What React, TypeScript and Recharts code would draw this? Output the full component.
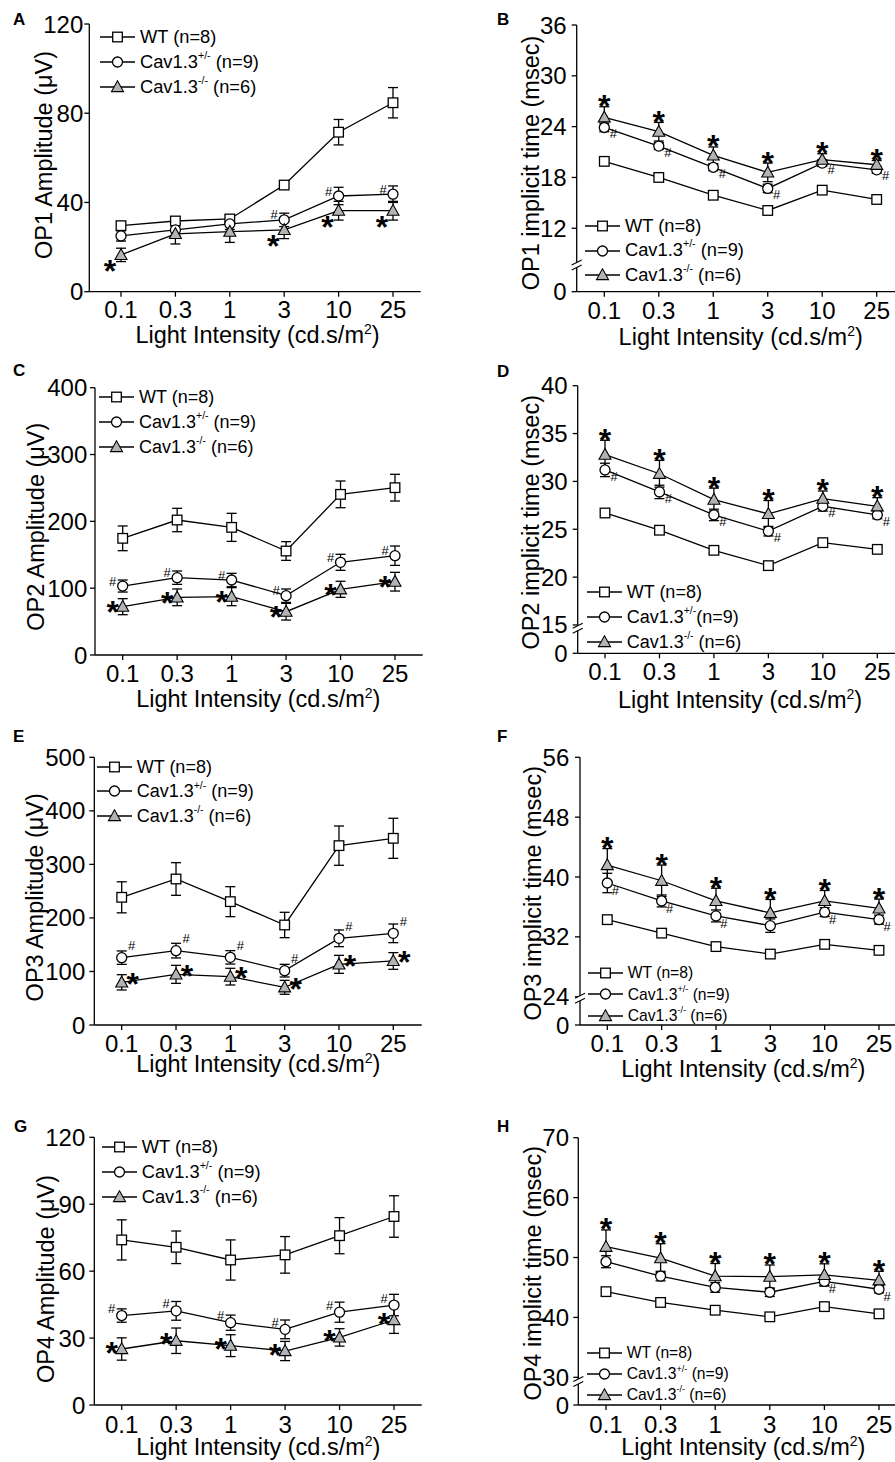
import React from "react";
import {
  ComposedChart,
  Line,
  XAxis,
  YAxis,
  ErrorBar,
  Legend,
  ReferenceDot,
} from "recharts";

const FONT = '"Liberation Sans", Arial, Helvetica, sans-serif';

const intensities = ["0.1", "0.3", "1", "3", "10", "25"];
const legendNames = ["WT", "Cav1.3", "Cav1.3"];
const legendSups = ["", "+/-", "-/-"];
const legendCounts = ["(n=8)", "(n=9)", "(n=6)"];

// A - OP1 amplitude (µV)
const op1AmpWt = [29.6, 31.7, 32.6, 47.8, 71.5, 84.7];
const op1AmpWtErr = [1.5, 1.2, 1.5, 1.2, 5.7, 6.8];
const op1AmpHet = [25.0, 27.7, 30.4, 32.2, 42.9, 43.7];
const op1AmpHetErr = [2.3, 2.5, 2.5, 3.0, 3.9, 3.7];
const op1AmpKo = [16.5, 25.9, 26.9, 27.7, 36.3, 36.3];
const op1AmpKoErr = [3.0, 4.5, 4.8, 3.9, 4.2, 4.2];
const op1AmpStars = [1, 0, 0, 1, 1, 1];
const op1AmpHashes = [0, 0, 0, 1, 1, 1];

// B - OP1 implicit time (msec)
const op1TimeWt = [19.9, 18.0, 15.9, 14.1, 16.5, 15.4];
const op1TimeWtErr = [0.3, 0.3, 0.3, 0.3, 0.3, 0.3];
const op1TimeHet = [23.9, 21.7, 19.2, 16.7, 19.7, 18.9];
const op1TimeHetErr = [0.5, 0.4, 0.4, 0.5, 0.4, 0.4];
const op1TimeKo = [25.1, 23.4, 20.6, 18.6, 20.1, 19.5];
const op1TimeKoErr = [1.25, 1.1, 1.0, 1.1, 0.7, 0.5];
const op1TimeStars = [1, 1, 1, 1, 1, 1];
const op1TimeHashes = [1, 1, 1, 1, 1, 1];

// C - OP2 amplitude (µV)
const op2AmpWt = [174.6, 202, 191, 155.6, 240.4, 250.4];
const op2AmpWtErr = [18.5, 17.5, 21, 14, 20, 20];
const op2AmpHet = [103.2, 115.7, 112.2, 88.8, 138.7, 148.6];
const op2AmpHetErr = [9, 10, 10, 10, 12, 14.5];
const op2AmpKo = [72.3, 86.3, 87.3, 64.8, 98.3, 109.7];
const op2AmpKoErr = [12, 12.5, 13.5, 12.5, 12, 14];
const op2AmpStars = [1, 1, 1, 1, 1, 1];
const op2AmpHashes = [1, 1, 1, 1, 1, 1];

// D - OP2 implicit time (msec)
const op2TimeWt = [26.7, 24.9, 22.8, 21.2, 23.6, 22.9];
const op2TimeWtErr = [0.3, 0.3, 0.3, 0.3, 0.3, 0.3];
const op2TimeHet = [31.2, 28.9, 26.5, 24.8, 27.4, 26.5];
const op2TimeHetErr = [0.7, 0.7, 0.6, 0.5, 0.5, 0.4];
const op2TimeKo = [32.8, 30.8, 28.1, 26.6, 28.2, 27.4];
const op2TimeKoErr = [1.5, 1.4, 1.2, 1.4, 0.8, 0.9];
const op2TimeStars = [1, 1, 1, 1, 1, 1];
const op2TimeHashes = [1, 1, 1, 1, 1, 1];

// E - OP3 amplitude (µV)
const op3AmpWt = [238.5, 272.7, 230.4, 186.8, 335, 348.7];
const op3AmpWtErr = [29, 30.5, 28, 23.7, 36.7, 37.4];
const op3AmpHet = [125.8, 138.9, 126.4, 101.5, 161.9, 171.2];
const op3AmpHetErr = [12.5, 13.7, 12.5, 11.8, 15.6, 17.4];
const op3AmpKo = [79.7, 94.6, 90.3, 70.4, 113.3, 119.6];
const op3AmpKoErr = [14.3, 16.8, 15.6, 13, 16.8, 15.6];
const op3AmpStars = [1, 1, 1, 1, 1, 1];
const op3AmpHashes = [1, 1, 1, 1, 1, 1];

// F - OP3 implicit time (msec)
const op3TimeWt = [34.3, 32.5, 30.7, 29.7, 31.0, 30.2];
const op3TimeWtErr = [0.3, 0.3, 0.3, 0.3, 0.3, 0.3];
const op3TimeHet = [39.2, 36.8, 34.8, 33.5, 35.3, 34.3];
const op3TimeHetErr = [1.3, 0.8, 0.8, 0.9, 0.6, 0.6];
const op3TimeKo = [41.6, 39.5, 36.8, 35.2, 36.8, 35.8];
const op3TimeKoErr = [2.2, 2.1, 1.7, 1.8, 1.4, 1.25];
const op3TimeStars = [1, 1, 1, 1, 1, 1];
const op3TimeHashes = [1, 1, 1, 0, 1, 1];

// G - OP4 amplitude (µV)
const op4AmpWt = [74, 70.7, 65, 67.3, 75.9, 84.5];
const op4AmpWtErr = [9, 7.3, 9, 8.2, 8.1, 9.3];
const op4AmpHet = [40.1, 42.2, 36.9, 33.9, 41.6, 44.8];
const op4AmpHetErr = [3, 4.2, 3.4, 4.2, 4.5, 4.8];
const op4AmpKo = [25.1, 28.8, 26.6, 24.2, 30.3, 38.1];
const op4AmpKoErr = [5, 5.7, 4.9, 4.3, 3.9, 6];
const op4AmpStars = [1, 1, 1, 1, 1, 1];
const op4AmpHashes = [1, 1, 1, 1, 1, 1];

// H - OP4 implicit time (msec)
const op4TimeWt = [44.3, 42.5, 41.2, 40.1, 41.8, 40.6];
const op4TimeWtErr = [0.4, 0.4, 0.4, 0.4, 0.4, 0.4];
const op4TimeHet = [49.3, 46.9, 45.0, 44.2, 46.0, 44.7];
const op4TimeHetErr = [1.0, 0.8, 0.8, 0.7, 0.7, 0.6];
const op4TimeKo = [51.8, 49.9, 46.9, 46.8, 47.1, 46.2];
const op4TimeKoErr = [2.8, 2.4, 2.1, 1.95, 1.85, 1.5];
const op4TimeStars = [1, 1, 1, 1, 1, 1];
const op4TimeHashes = [0, 0, 0, 0, 1, 1];

type Series = { wt: number[]; wtErr: number[]; het: number[]; hetErr: number[]; ko: number[]; koErr: number[]; stars: number[]; hashes: number[] };

type PanelCfg = {
  letter: string;
  box: { left: number; top: number; width: number; height: number };
  axisX: number;
  axisRight: number;
  axisTop: number;
  axisBottom: number;
  tick0: number;
  tick5: number;
  yDomain: [number, number];
  yTicks: number[];
  brokenFloor?: number;
  breakAt?: number;
  yGap: number;
  tickBase: number;
  xLabel: [number, number];
  yLabel: [number, number, string];
  letterPos: [number, number];
  legend: { left: number; top: number; rowH: number; font: number; tight?: boolean };
  starAbove: boolean;
  star: [number, number];
  hash: [number, number];
  series: Series;
};

const panels: PanelCfg[] = [
  {
    letter: "A", box: { left: 0, top: 0, width: 440, height: 360 },
    axisX: 89.3, axisRight: 420.7, axisTop: 24, axisBottom: 291.7, tick0: 121, tick5: 393,
    yDomain: [0, 120], yTicks: [0, 40, 80, 120], yGap: 6, tickBase: 26.6,
    xLabel: [257.5, 343.3], yLabel: [52, 155, "OP1 Amplitude (μV)"], letterPos: [13, 25],
    legend: { left: 100, top: 37, rowH: 25, font: 18.3 },
    starAbove: false, star: [-11, 9], hash: [-10, -5],
    series: { wt: op1AmpWt, wtErr: op1AmpWtErr, het: op1AmpHet, hetErr: op1AmpHetErr, ko: op1AmpKo, koErr: op1AmpKoErr, stars: op1AmpStars, hashes: op1AmpHashes },
  },
  {
    letter: "B", box: { left: 445, top: 0, width: 450, height: 360 },
    axisX: 576.7, axisRight: 895, axisTop: 25, axisBottom: 291.7, tick0: 604.3, tick5: 876.7,
    yDomain: [4.51, 36], yTicks: [4.51, 12, 18, 24, 30, 36], brokenFloor: 4.51, breakAt: 7.66, yGap: 10, tickBase: 27.6,
    xLabel: [740.7, 345], yLabel: [539, 163, "OP1 implicit time (msec)"], letterPos: [497, 25],
    legend: { left: 585, top: 226, rowH: 24.5, font: 18.3 },
    starAbove: true, star: [0, -8], hash: [9, 6],
    series: { wt: op1TimeWt, wtErr: op1TimeWtErr, het: op1TimeHet, hetErr: op1TimeHetErr, ko: op1TimeKo, koErr: op1TimeKoErr, stars: op1TimeStars, hashes: op1TimeHashes },
  },
  {
    letter: "C", box: { left: 0, top: 358, width: 440, height: 364 },
    axisX: 95, axisRight: 422.7, axisTop: 387.7, axisBottom: 655, tick0: 122.7, tick5: 395,
    yDomain: [0, 400], yTicks: [0, 100, 200, 300, 400], yGap: 7.7, tickBase: 26.7,
    xLabel: [258.3, 706.7], yLabel: [44, 526.7, "OP2 Amplitude (μV)"], letterPos: [13, 376],
    legend: { left: 99, top: 396.7, rowH: 25, font: 18 },
    starAbove: false, star: [-10, -2], hash: [-10, -5],
    series: { wt: op2AmpWt, wtErr: op2AmpWtErr, het: op2AmpHet, hetErr: op2AmpHetErr, ko: op2AmpKo, koErr: op2AmpKoErr, stars: op2AmpStars, hashes: op2AmpHashes },
  },
  {
    letter: "D", box: { left: 445, top: 358, width: 450, height: 364 },
    axisX: 577.7, axisRight: 895, axisTop: 385.7, axisBottom: 653.3, tick0: 605, tick5: 877.3,
    yDomain: [12.04, 40], yTicks: [12.04, 15, 20, 25, 30, 35, 40], brokenFloor: 12.04, breakAt: 14.65, yGap: 10, tickBase: 26.7,
    xLabel: [740, 708.3], yLabel: [539, 522.3, "OP2 implicit time (msec)"], letterPos: [497, 377],
    legend: { left: 586.7, top: 591.7, rowH: 25, font: 18, tight: true },
    starAbove: true, star: [0, -8], hash: [9, 6],
    series: { wt: op2TimeWt, wtErr: op2TimeWtErr, het: op2TimeHet, hetErr: op2TimeHetErr, ko: op2TimeKo, koErr: op2TimeKoErr, stars: op2TimeStars, hashes: op2TimeHashes },
  },
  {
    letter: "E", box: { left: 0, top: 722, width: 440, height: 366 },
    axisX: 94.3, axisRight: 421.7, axisTop: 757.3, axisBottom: 1025, tick0: 121.7, tick5: 393.3,
    yDomain: [0, 500], yTicks: [0, 100, 200, 300, 400, 500], yGap: 9, tickBase: 26.7,
    xLabel: [258.3, 1071.7], yLabel: [43, 897.3, "OP3 Amplitude (μV)"], letterPos: [13, 741.7],
    legend: { left: 96.7, top: 766.7, rowH: 24.7, font: 18 },
    starAbove: false, star: [11, -6], hash: [10, -12],
    series: { wt: op3AmpWt, wtErr: op3AmpWtErr, het: op3AmpHet, hetErr: op3AmpHetErr, ko: op3AmpKo, koErr: op3AmpKoErr, stars: op3AmpStars, hashes: op3AmpHashes },
  },
  {
    letter: "F", box: { left: 445, top: 722, width: 450, height: 366 },
    axisX: 580, axisRight: 895, axisTop: 757.3, axisBottom: 1025, tick0: 607.3, tick5: 879,
    yDomain: [20.22, 56], yTicks: [20.22, 24, 32, 40, 48, 56], brokenFloor: 20.22, breakAt: 23.8, yGap: 10.7, tickBase: 26.7,
    xLabel: [743.3, 1076.7], yLabel: [541, 893.3, "OP3 implicit time (msec)"], letterPos: [497, 741.7],
    legend: { left: 587.7, top: 972.7, rowH: 21.7, font: 15.7 },
    starAbove: true, star: [0, -8], hash: [8, 7],
    series: { wt: op3TimeWt, wtErr: op3TimeWtErr, het: op3TimeHet, hetErr: op3TimeHetErr, ko: op3TimeKo, koErr: op3TimeKoErr, stars: op3TimeStars, hashes: op3TimeHashes },
  },
  {
    letter: "G", box: { left: 0, top: 1090, width: 440, height: 372 },
    axisX: 94.3, axisRight: 421.7, axisTop: 1137.3, axisBottom: 1405, tick0: 121.7, tick5: 394,
    yDomain: [0, 120], yTicks: [0, 30, 60, 90, 120], yGap: 9, tickBase: 28.3,
    xLabel: [258.3, 1455], yLabel: [54, 1279, "OP4 Amplitude (μV)"], letterPos: [14, 1131.7],
    legend: { left: 101.7, top: 1147.3, rowH: 24.7, font: 18.3 },
    starAbove: false, star: [-10, -4], hash: [-10, -7],
    series: { wt: op4AmpWt, wtErr: op4AmpWtErr, het: op4AmpHet, hetErr: op4AmpHetErr, ko: op4AmpKo, koErr: op4AmpKoErr, stars: op4AmpStars, hashes: op4AmpHashes },
  },
  {
    letter: "H", box: { left: 445, top: 1090, width: 450, height: 372 },
    axisX: 578.3, axisRight: 895, axisTop: 1137.7, axisBottom: 1405, tick0: 606, tick5: 879,
    yDomain: [25.38, 70], yTicks: [25.38, 30, 40, 50, 60, 70], brokenFloor: 25.38, breakAt: 29.3, yGap: 9.3, tickBase: 28.3,
    xLabel: [743.3, 1455], yLabel: [541, 1273.3, "OP4 implicit time (msec)"], letterPos: [497, 1131.7],
    legend: { left: 586.7, top: 1353.3, rowH: 20.8, font: 15.7 },
    starAbove: true, star: [0, -8], hash: [8, 7],
    series: { wt: op4TimeWt, wtErr: op4TimeWtErr, het: op4TimeHet, hetErr: op4TimeHetErr, ko: op4TimeKo, koErr: op4TimeKoErr, stars: op4TimeStars, hashes: op4TimeHashes },
  },
];

function Marker({ kind, cx, cy }: { kind: string; cx: number; cy: number }) {
  if (kind === "square")
    return <rect x={cx - 4.8} y={cy - 4.8} width={9.6} height={9.6} fill="#fff" stroke="#000" strokeWidth={1.3} />;
  if (kind === "circle") return <circle cx={cx} cy={cy} r={5} fill="#fff" stroke="#000" strokeWidth={1.3} />;
  return (
    <polygon
      points={`${cx},${cy - 6.2} ${cx - 6},${cy + 4.6} ${cx + 6},${cy + 4.6}`}
      fill="#b3b3b3"
      stroke="#000"
      strokeWidth={1.1}
    />
  );
}

const markerDot = (kind: string) => (p: any) => {
  const key = `${kind}-${p.index}`;
  if (p.cx == null || p.cy == null) return <g key={key} />;
  return (
    <g key={key}>
      <Marker kind={kind} cx={p.cx} cy={p.cy} />
    </g>
  );
};

const markDot = (flag: "star" | "hash", dx: number, dy: number) => (p: any) => {
  const key = `${flag}-${p.index}`;
  if (p.cx == null || p.cy == null || !p.payload?.[flag]) return <g key={key} />;
  const isStar = flag === "star";
  return (
    <text
      key={key}
      x={p.cx + dx}
      y={p.cy + dy + (isStar ? 18.5 : 4.6)}
      textAnchor="middle"
      fontSize={isStar ? 32 : 13}
      fontWeight={isStar ? "bold" : "normal"}
      fontFamily={FONT}
      fill="#000"
    >
      {isStar ? "*" : "#"}
    </text>
  );
};

const BreakMark = (p: any) => {
  const { cx, cy } = p;
  if (cx == null || cy == null) return <g />;
  return (
    <g>
      <polygon points={`${cx - 5},${cy} ${cx + 5},${cy - 5} ${cx + 5},${cy} ${cx - 5},${cy + 5}`} fill="#fff" />
      <line x1={cx - 5} y1={cy} x2={cx + 5} y2={cy - 5} stroke="#000" strokeWidth={1.2} />
      <line x1={cx - 5} y1={cy + 5} x2={cx + 5} y2={cy} stroke="#000" strokeWidth={1.2} />
    </g>
  );
};

function LegendBox({ font, rowH, tight }: { font: number; rowH: number; tight?: boolean }) {
  const kinds = ["square", "circle", "triangle"];
  return (
    <div style={{ fontFamily: FONT, fontSize: font, color: "#000", lineHeight: 1 }}>
      {legendNames.map((name, i) => (
        <div key={i} style={{ display: "flex", alignItems: "center", height: rowH, whiteSpace: "nowrap" }}>
          <svg width={35} height={14} style={{ display: "block" }}>
            <line x1={0} y1={7} x2={35} y2={7} stroke="#000" strokeWidth={1.3} />
            <Marker kind={kinds[i]} cx={17.5} cy={7} />
          </svg>
          <span style={{ marginLeft: 5 }}>
            {name}
            {legendSups[i] && (
              <span style={{ fontSize: "0.58em", position: "relative", top: "-0.85em" }}>{legendSups[i]}</span>
            )}
            {tight && i === 1 ? "" : " "}
            {legendCounts[i]}
          </span>
        </div>
      ))}
    </div>
  );
}

function OpPanel({ cfg }: { cfg: PanelCfg }) {
  const { box, series: s } = cfg;
  const step = (cfg.tick5 - cfg.tick0) / 5;
  const xDomain: [number, number] = [(cfg.axisX - cfg.tick0) / step, 5 + (cfg.axisRight - cfg.tick5) / step];
  const rows = intensities.map((_, i) => ({
    x: i,
    wt: s.wt[i],
    wtErr: s.wtErr[i],
    het: s.het[i],
    hetErr: s.hetErr[i],
    ko: s.ko[i],
    koErr: s.koErr[i],
    starAt: cfg.starAbove ? s.ko[i] + s.koErr[i] : s.ko[i],
    star: s.stars[i] === 1,
    hashAt: s.het[i],
    hash: s.hashes[i] === 1,
  }));
  const rx = (x: number) => x - box.left;
  const ry = (y: number) => y - box.top;
  const [ylx, yly, ylText] = cfg.yLabel;

  const xTick = (p: any) => (
    <text x={p.x} y={p.y - 5 + cfg.tickBase} textAnchor="middle" fontSize={24} fontFamily={FONT} fill="#000">
      {intensities[Math.round(p.payload.value)]}
    </text>
  );
  const yTick = (p: any) => {
    const v = p.payload.value;
    const label = cfg.brokenFloor != null && Math.abs(v - cfg.brokenFloor) < 1e-6 ? "0" : String(v);
    return (
      <text x={p.x} y={p.y + 8.5} textAnchor="end" fontSize={24} fontFamily={FONT} fill="#000">
        {label}
      </text>
    );
  };

  const axisStyle = { stroke: "#000", strokeWidth: 1.3 };

  return (
    <div style={{ position: "absolute", left: box.left, top: box.top }}>
      <ComposedChart
        width={box.width}
        height={box.height}
        data={rows}
        margin={{ top: cfg.axisTop - box.top, right: box.left + box.width - cfg.axisRight, bottom: 0, left: 0 }}
      >
        <XAxis
          type="number"
          dataKey="x"
          domain={xDomain}
          ticks={[0, 1, 2, 3, 4, 5]}
          interval={0}
          height={box.top + box.height - cfg.axisBottom}
          axisLine={axisStyle}
          tickLine={axisStyle}
          tickSize={5}
          tickMargin={0}
          tick={xTick}
        />
        <YAxis
          type="number"
          domain={cfg.yDomain}
          ticks={cfg.yTicks}
          interval={0}
          width={cfg.axisX - box.left}
          axisLine={axisStyle}
          tickLine={axisStyle}
          tickSize={5}
          tickMargin={cfg.yGap - 5}
          tick={yTick}
        />
        {cfg.breakAt != null && (
          <ReferenceDot x={xDomain[0]} y={cfg.breakAt} r={0} ifOverflow="visible" shape={BreakMark} />
        )}
        <Line dataKey="wt" stroke="#000" strokeWidth={1.3} dot={markerDot("square")} activeDot={false} isAnimationActive={false} legendType="none">
          <ErrorBar dataKey="wtErr" direction="y" width={5} stroke="#000" strokeWidth={1.3} />
        </Line>
        <Line dataKey="het" stroke="#000" strokeWidth={1.3} dot={markerDot("circle")} activeDot={false} isAnimationActive={false} legendType="none">
          <ErrorBar dataKey="hetErr" direction="y" width={5} stroke="#000" strokeWidth={1.3} />
        </Line>
        <Line dataKey="ko" stroke="#000" strokeWidth={1.3} dot={markerDot("triangle")} activeDot={false} isAnimationActive={false} legendType="none">
          <ErrorBar dataKey="koErr" direction="y" width={5} stroke="#000" strokeWidth={1.3} />
        </Line>
        <Line dataKey="starAt" stroke="none" dot={markDot("star", cfg.star[0], cfg.star[1])} activeDot={false} isAnimationActive={false} legendType="none" />
        <Line dataKey="hashAt" stroke="none" dot={markDot("hash", cfg.hash[0], cfg.hash[1])} activeDot={false} isAnimationActive={false} legendType="none" />
        <Legend
          layout="vertical"
          align="center"
          verticalAlign="middle"
          wrapperStyle={{
            top: ry(cfg.legend.top) - cfg.legend.rowH / 2,
            left: rx(cfg.legend.left),
            width: "auto",
            height: "auto",
          }}
          content={() => <LegendBox font={cfg.legend.font} rowH={cfg.legend.rowH} tight={cfg.legend.tight} />}
        />
        <text x={rx(cfg.letterPos[0])} y={ry(cfg.letterPos[1])} fontSize={17} fontWeight="bold" fontFamily={FONT} fill="#000">
          {cfg.letter}
        </text>
        <text
          x={rx(ylx)}
          y={ry(yly)}
          transform={`rotate(-90 ${rx(ylx)} ${ry(yly)})`}
          textAnchor="middle"
          fontSize={23.5}
          fontFamily={FONT}
          fill="#000"
        >
          {ylText}
        </text>
        <text x={rx(cfg.xLabel[0])} y={ry(cfg.xLabel[1])} textAnchor="middle" fontSize={23.5} fontFamily={FONT} fill="#000">
          Light Intensity (cd.s/m
          <tspan dy={-9} fontSize={14}>2</tspan>
          <tspan dy={9}>)</tspan>
        </text>
      </ComposedChart>
    </div>
  );
}

export default function App() {
  return (
    <div
      style={{
        position: "absolute",
        left: 0,
        top: 0,
        width: 895,
        height: 1462,
        background: "#fff",
        overflow: "hidden",
        fontFamily: FONT,
      }}
    >
      {panels.map((p) => (
        <OpPanel key={p.letter} cfg={p} />
      ))}
    </div>
  );
}
